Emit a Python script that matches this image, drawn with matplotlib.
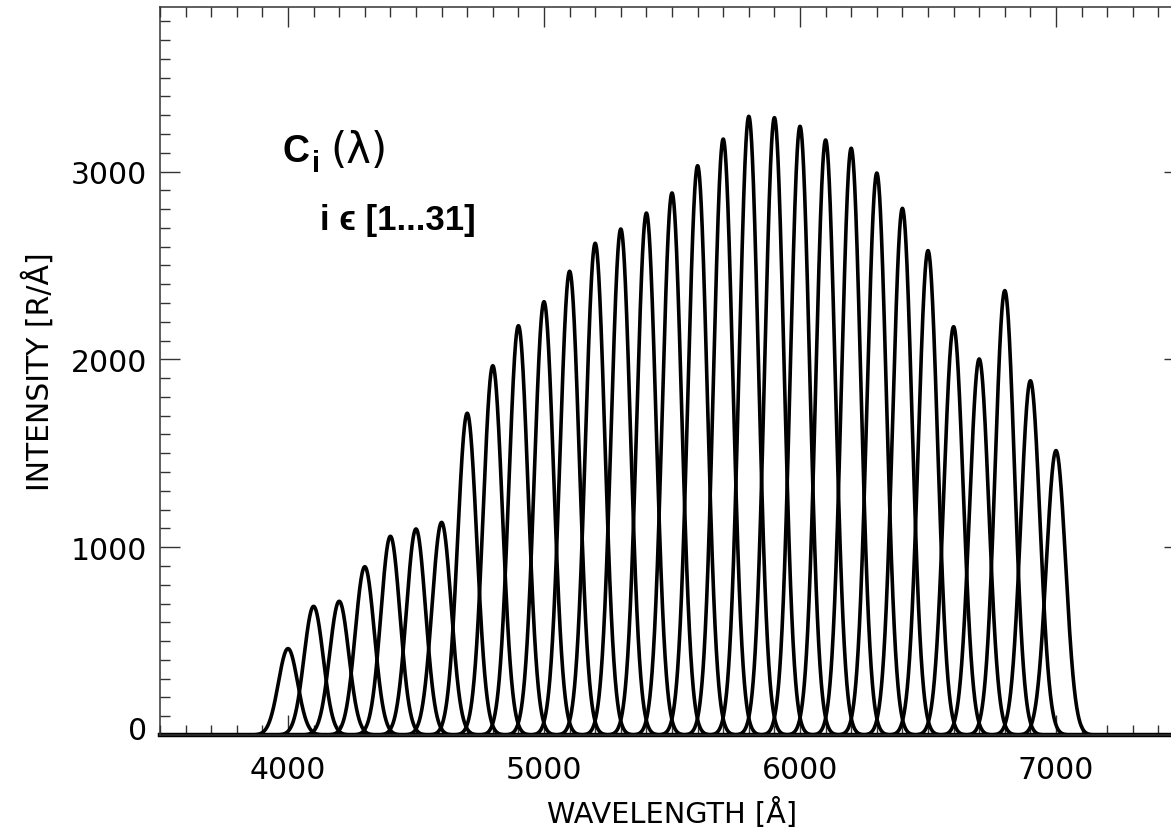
import numpy as np
import matplotlib
matplotlib.use("Agg")
import matplotlib.pyplot as plt
from matplotlib.ticker import MultipleLocator

# ---- data ----
centers = [4000, 4100, 4200, 4300, 4400, 4500, 4600, 4700, 4800, 4900,
           5000, 5100, 5200, 5300, 5400, 5500, 5600, 5700, 5800, 5900,
           6000, 6100, 6200, 6300, 6400, 6500, 6600, 6700, 6800, 6900, 7000]
peaks = [460, 685, 712, 896, 1058, 1097, 1132, 1713, 1966, 2179,
         2307, 2469, 2618, 2694, 2779, 2886, 3031, 3173, 3294, 3287,
         3241, 3168, 3124, 2992, 2804, 2579, 2174, 2002, 2366, 1886, 1514]
sigma = 37.5  # profile width [Å]
x_ticks = [4000, 5000, 6000, 7000]
y_ticks = [0, 1000, 2000, 3000]

W, H = 1171, 829
fig = plt.figure(figsize=(W / 100, H / 100), dpi=100)
ax = fig.add_axes([160 / W, (H - 736) / H, 1024 / W, 728 / H])

wl = np.linspace(3500, 7500, 4001)
for c, p in zip(centers, peaks):
    ax.plot(wl, p * np.exp(-0.5 * ((wl - c) / sigma) ** 2),
            color="black", lw=2.6, clip_on=False, solid_joinstyle="round")
ax.axhline(0, color="black", lw=3.2, clip_on=False)

ax.set_xlim(3500, 7500)
ax.set_ylim(0, 3876)
ax.set_xticks(x_ticks)
ax.set_yticks(y_ticks)
ax.xaxis.set_minor_locator(MultipleLocator(100))
ax.yaxis.set_minor_locator(MultipleLocator(100))
ax.tick_params(which="both", direction="in", top=True, right=True,
               color="#333333", width=1.0)
ax.tick_params(which="major", length=14.4)
ax.tick_params(which="minor", length=7.2)
ax.tick_params(axis="x", which="major", pad=14.5, labelsize=21.5)
ax.tick_params(axis="y", which="major", pad=9.5, labelsize=21.5)
for s in ax.spines.values():
    s.set_color("#333333")
    s.set_linewidth(1.1)
# the "0" label sits a little above the axis line in the reference
for lab in ax.get_yticklabels():
    if lab.get_text() in ("0", "−0"):
        pass
import matplotlib.transforms as mtrans
ylabels = ax.yaxis.get_majorticklabels()
ylabels[0].set_transform(ylabels[0].get_transform() +
                         mtrans.ScaledTranslation(0, 7 / 100, fig.dpi_scale_trans))

ax.set_xlabel("WAVELENGTH [Å]", fontsize=20.7, labelpad=9)
ax.set_ylabel("INTENSITY [R/Å]", fontsize=21.5, labelpad=11)

# annotation
fam = ["Liberation Sans", "DejaVu Sans"]
fig.text(282 / W, 1 - 162 / H, "C", fontsize=27, fontweight="bold",
         family=fam, ha="left", va="baseline")
fig.text(312 / W, 1 - 172 / H, "i", fontsize=21, fontweight="bold",
         family=fam, ha="left", va="baseline")
fig.text(330 / W, 1 - 163 / H, "(λ)", fontsize=30, family=["DejaVu Sans"],
         ha="left", va="baseline")
fig.text(320 / W, 1 - 230 / H, "i ϵ [1...31]", fontsize=25, fontweight="bold",
         family=fam, ha="left", va="baseline")

fig.savefig("out.png", dpi=100)
